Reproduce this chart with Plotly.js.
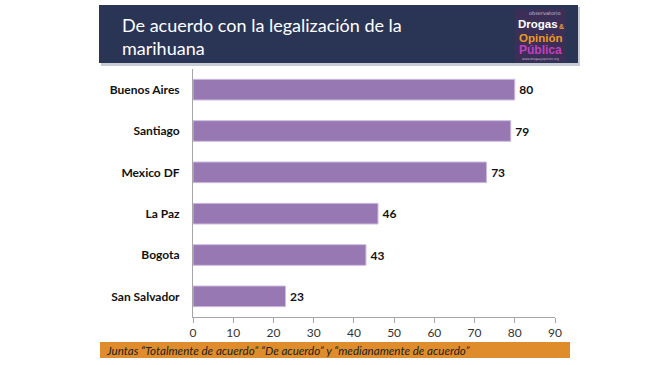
<!DOCTYPE html>
<html><head><meta charset="utf-8">
<script src="https://cdn.plot.ly/plotly-3.0.1.min.js"></script>
<style>html,body{margin:0;padding:0;background:#fff;}#chart{width:671px;height:365px;}</style>
</head><body><div id="chart"></div>
<script>
const cities = ["Buenos Aires", "Santiago", "Mexico DF", "La Paz", "Bogota", "San Salvador"];
const values = [80, 79, 73, 46, 43, 23];
const xTicks = [0, 10, 20, 30, 40, 50, 60, 70, 80, 90];
const titleText = "De acuerdo con la legalización de la<br>marihuana";
const noteText = "Juntas “Totalmente de acuerdo” “De acuerdo” y “medianamente de acuerdo”";

const W = 671, H = 365;
const L = 193, R = 555, T = 69, B = 317;
const px = x => (x - L) / (R - L);
const py = y => (B - y) / (B - T);

const trace = {
  type: 'bar', orientation: 'h',
  x: values, y: cities,
  width: 0.5,
  marker: {color: '#9778b3', line: {color: '#cdbde0', width: 1}},
  text: values.map(v => '\u2009' + v), textposition: 'outside',
  textfont: {family: 'Lato, sans-serif', size: 12, color: '#111', weight: 'bold'},
  cliponaxis: false, hoverinfo: 'skip'
};

const shapes = [
  {type:'rect', xref:'paper', yref:'paper', x0:px(101), x1:px(580), y0:py(66), y1:py(7), fillcolor:'#c8ccd4', line:{width:0}, layer:'below'},
  {type:'rect', xref:'paper', yref:'paper', x0:px(99), x1:px(578), y0:py(63), y1:py(5), fillcolor:'#2a3556', line:{width:0}},
  {type:'rect', xref:'paper', yref:'paper', x0:px(515), x1:px(566), y0:py(62), y1:py(9), fillcolor:'#3b2f57', line:{width:0}},
  {type:'rect', xref:'paper', yref:'paper', x0:px(100), x1:px(570), y0:py(358), y1:py(342), fillcolor:'#df8d2c', line:{width:0}}
];

const logoFont = 'Liberation Sans, Arial, sans-serif';
const ann = [
  {xref:'paper', yref:'paper', x:px(120), y:py(36), xanchor:'left', yanchor:'middle', align:'left', showarrow:false,
   text:titleText, font:{family:'Lato, sans-serif', size:18, color:'#ffffff'}},
  {xref:'paper', yref:'paper', x:px(563), y:py(13.5), xanchor:'right', yanchor:'middle', showarrow:false,
   text:'observatorio', font:{family:'DejaVu Sans, sans-serif', size:5, color:'#c8c0d8'}},
  {xref:'paper', yref:'paper', x:px(516), y:py(23.5), xanchor:'left', yanchor:'middle', showarrow:false,
   text:'<b>Drogas</b>', font:{family:logoFont, size:11.5, color:'#ffffff'}},
  {xref:'paper', yref:'paper', x:px(566), y:py(27), xanchor:'right', yanchor:'middle', showarrow:false,
   text:'<b>&</b>', font:{family:logoFont, size:7, color:'#e8a030'}},
  {xref:'paper', yref:'paper', x:px(540), y:py(37.5), xanchor:'center', yanchor:'middle', showarrow:false,
   text:'<b>Opinión</b>', font:{family:logoFont, size:11.5, color:'#eb9a25'}},
  {xref:'paper', yref:'paper', x:px(540), y:py(50), xanchor:'center', yanchor:'middle', showarrow:false,
   text:'<b>Pública</b>', font:{family:logoFont, size:12, color:'#c23fbf'}},
  {xref:'paper', yref:'paper', x:px(540), y:py(59), xanchor:'center', yanchor:'middle', showarrow:false,
   text:'www.drogasyopinion.org', font:{family:'DejaVu Sans, sans-serif', size:3, color:'#c8c0d8'}},
  {xref:'paper', yref:'paper', x:px(104), y:py(350), xanchor:'left', yanchor:'middle', showarrow:false,
   text:'<i>'+noteText+'</i>', font:{family:'Lato, sans-serif', size:11.6, color:'#222'}}
];

const layout = {
  width: W, height: H,
  margin: {l: L, r: W - R, t: T, b: H - B, pad: 0},
  paper_bgcolor: '#ffffff', plot_bgcolor: '#ffffff',
  showlegend: false,
  bargap: 0.5,
  xaxis: {range: [0, 90], tickvals: xTicks, ticktext: xTicks.map(String), showgrid: false, zeroline: false,
          showline: true, linecolor: '#a6a6a6', linewidth: 1, ticks: 'outside', ticklen: 5, tickcolor: '#a6a6a6',
          tickfont: {family: 'Lato, sans-serif', size: 12, color: '#333'}, fixedrange: true},
  yaxis: {categoryorder: 'array', categoryarray: cities, autorange: 'reversed', showgrid: false, zeroline: false,
          showline: true, linecolor: '#a6a6a6', linewidth: 1, ticks: '', ticklabelstandoff: 10,
          tickfont: {family: 'Lato, sans-serif', size: 12, color: '#111', weight: 'bold'}, fixedrange: true},
  shapes: shapes, annotations: ann
};

Plotly.newPlot('chart', [trace], layout, {displayModeBar: false, staticPlot: true});
</script></body></html>
